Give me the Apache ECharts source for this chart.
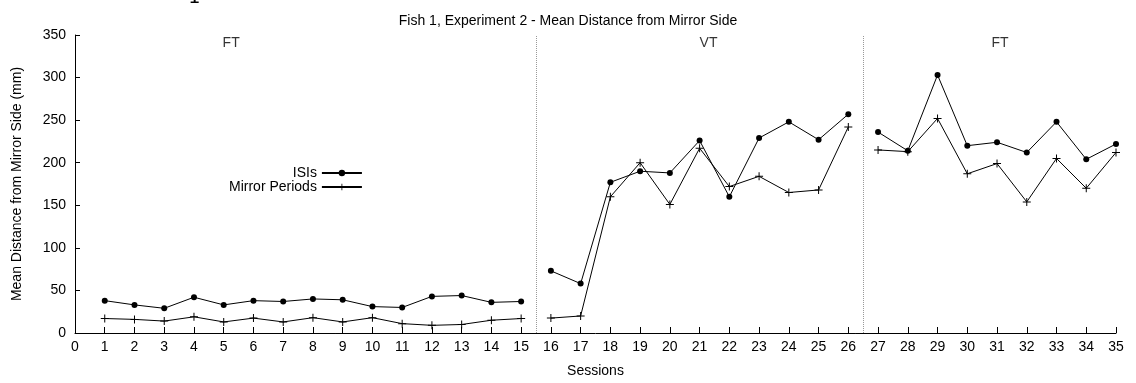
<!DOCTYPE html>
<html>
<head>
<meta charset="utf-8">
<script src="https://cdn.jsdelivr.net/npm/echarts@6/dist/echarts.min.js"></script>
<style>
html,body{margin:0;padding:0;background:#fff;}
#chart{width:1136px;height:383px;}
</style>
</head>
<body>
<div id="chart"></div>
<script>
// ---- data ----
const sessions = [1,2,3,4,5,6,7,8,9,10,11,12,13,14,15,16,17,18,19,20,21,22,23,24,25,26,27,28,29,30,31,32,33,34,35];
const isiValues = [38,33,29,42,33,38,37,40,39,31,30,43,44,36,37,
                   73,58,177,190,188,226,160,229,248,227,257,
                   236,214,303,220,224,212,248,204,222];
const mirrorValues = [17,16,14,19,13,17.5,13,18,13,18,11,9,10,15,17,
                      17.5,20,160,200,151,217,172,184,165,168,242,
                      215,213,252,187,199,154,205,170,212];
const phaseBreaks = [15.5, 26.5];
const phaseLabels = ['FT', 'VT', 'FT'];
const phaseLabelX = [5.25, 21.3, 31.1];

const FONT = '"Liberation Sans", Arial, Helvetica, sans-serif';

function buildSeries(values) {
  const out = [];
  let b = 0;
  sessions.forEach((s, i) => {
    while (b < phaseBreaks.length && s > phaseBreaks[b]) {
      out.push([phaseBreaks[b], null]);
      b++;
    }
    out.push([s, values[i]]);
  });
  return out;
}

const plusPath = 'path://M0,3.5H8V4.5H0Z M3.5,0H4.5V8H3.5Z';

const chart = echarts.init(document.getElementById('chart'), null, {renderer: 'canvas'});
chart.setOption({
  animation: false,
  backgroundColor: '#fff',
  title: {
    text: 'Fish 1, Experiment 2 - Mean Distance from Mirror Side',
    left: 'center',
    top: 9,
    textStyle: {fontFamily: FONT, fontSize: 14, fontWeight: 'normal', color: '#000'}
  },
  graphic: [{
    type: 'text',
    x: 188,
    y: -12,
    style: {text: '1', font: '20px "DejaVu Sans Mono"', fill: '#000', verticalAlign: 'top'}
  }],
  legend: {
    data: ['ISIs', 'Mirror Periods'],
    orient: 'vertical',
    align: 'right',
    left: 224,
    top: 161,
    itemWidth: 40,
    itemHeight: 8,
    itemGap: 0,
    textStyle: {fontFamily: FONT, fontSize: 14, color: '#000', lineHeight: 14}
  },
  grid: {left: 75, right: 20, top: 35, bottom: 48},
  xAxis: {
    type: 'value',
    min: 0, max: 35, interval: 1,
    name: 'Sessions',
    nameLocation: 'middle',
    nameGap: 31,
    nameTextStyle: {fontFamily: FONT, fontSize: 14, color: '#000'},
    axisLine: {show: true, lineStyle: {color: '#000', width: 1}},
    axisTick: {show: true, inside: true, length: 6, lineStyle: {color: '#000'}},
    axisLabel: {fontFamily: FONT, fontSize: 14, color: '#000', margin: 7},
    splitLine: {show: false}
  },
  yAxis: {
    type: 'value',
    min: 0, max: 350, interval: 50,
    name: 'Mean Distance from Mirror Side (mm)',
    nameLocation: 'middle',
    nameGap: 51,
    nameTextStyle: {fontFamily: FONT, fontSize: 14, color: '#000'},
    axisLine: {show: true, lineStyle: {color: '#000', width: 1}},
    axisTick: {show: true, inside: true, length: 5, lineStyle: {color: '#000'}},
    axisLabel: {fontFamily: FONT, fontSize: 14, color: '#000', margin: 9},
    splitLine: {show: false}
  },
  series: [
    {
      name: 'ISIs',
      type: 'line',
      data: buildSeries(isiValues),
      connectNulls: false,
      symbol: 'circle',
      symbolSize: 6,
      showAllSymbol: true,
      lineStyle: {color: '#000', width: 1},
      itemStyle: {color: '#000', borderWidth: 0},
      markLine: {
        silent: true,
        symbol: 'none',
        label: {show: false},
        lineStyle: {color: '#999', type: 'dotted', width: 1},
        data: phaseBreaks.map(v => ({xAxis: v}))
      },
      z: 3
    },
    {
      name: 'Mirror Periods',
      type: 'line',
      data: buildSeries(mirrorValues),
      connectNulls: false,
      symbol: plusPath,
      symbolSize: 8,
      showAllSymbol: true,
      lineStyle: {color: '#000', width: 1},
      itemStyle: {color: '#000', borderWidth: 0},
      z: 3
    },
    {
      name: 'phases',
      type: 'scatter',
      symbolSize: 0,
      silent: true,
      data: phaseLabels.map((t, i) => ({name: t, value: [phaseLabelX[i], 341]})),
      label: {
        show: true,
        position: 'inside',
        formatter: p => p.name,
        fontFamily: FONT, fontSize: 14, color: '#000'
      }
    }
  ]
});
</script>
</body>
</html>
